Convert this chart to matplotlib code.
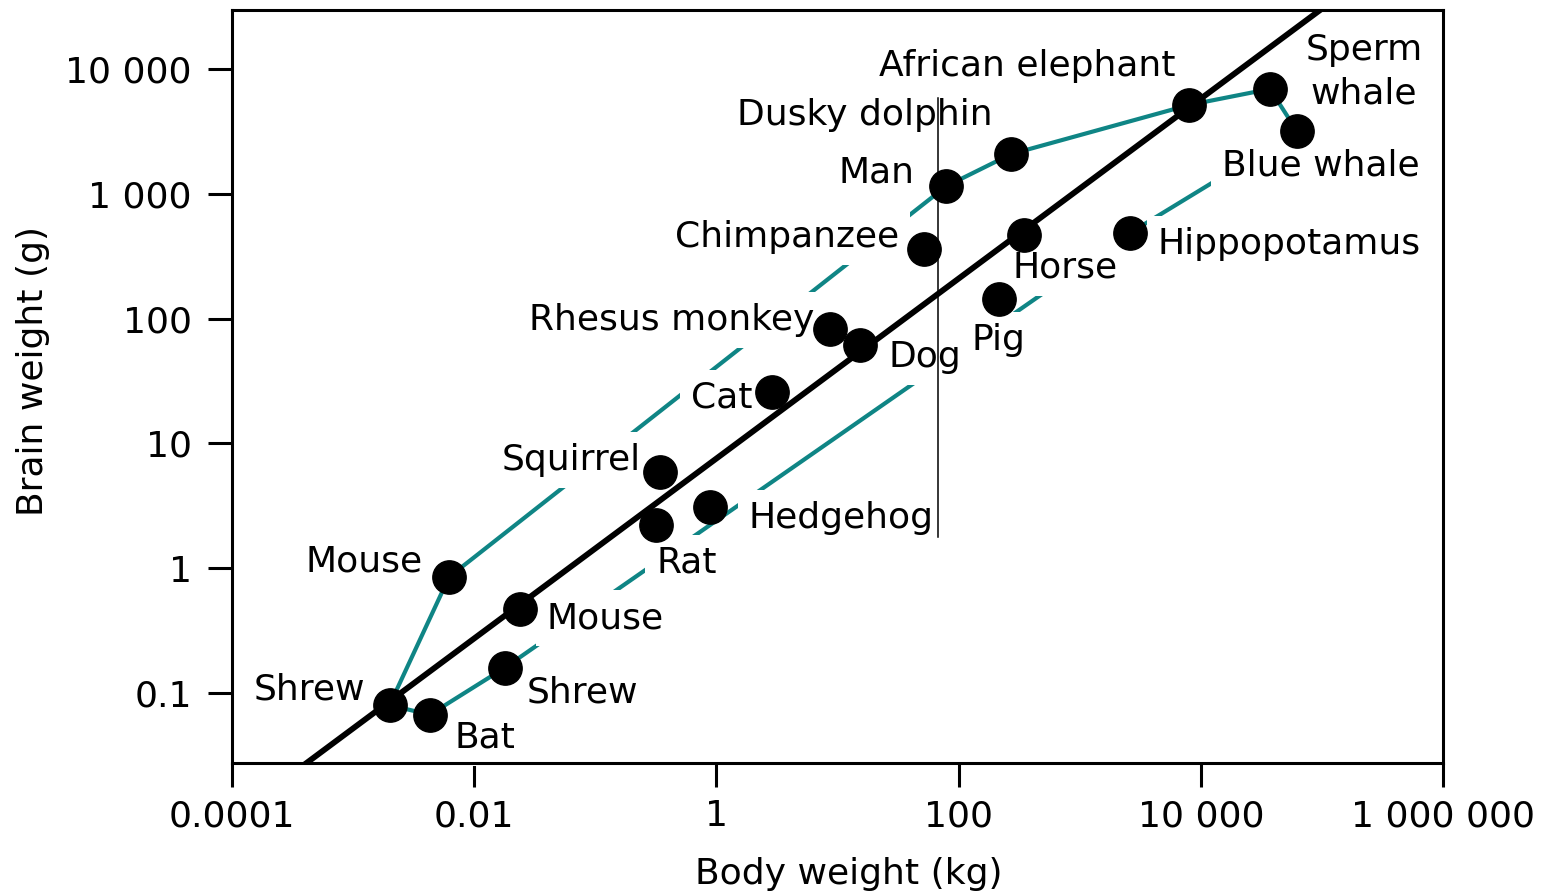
import matplotlib

matplotlib.use("Agg")
import matplotlib.pyplot as plt
from matplotlib.ticker import FixedLocator, FuncFormatter, NullLocator

# body weight (kg), brain weight (g), label offset in pixels from the point
names = ["Shrew", "Bat", "Mouse", "Mouse", "Shrew", "Squirrel", "Rat", "Hedgehog",
         "Cat", "Rhesus monkey", "Dog", "Chimpanzee", "Man", "Dusky dolphin",
         "African elephant", "Sperm\nwhale", "Blue whale", "Hippopotamus", "Horse", "Pig"]
body_kg = [0.002, 0.0043, 0.0062, 0.024, 0.018, 0.34, 0.32, 0.885,
           2.9, 8.7, 15.3, 52, 79, 271,
           8000, 37200, 62200, 2600, 347, 216]
brain_g = [0.080, 0.067, 0.85, 0.47, 0.16, 5.9, 2.2, 3.1,
           26, 83, 61, 361, 1150, 2080,
           5150, 6920, 3180, 486, 468, 144]
label_dx = [-80, 55, -85, 85, 77, -88, 30, 131, -51, -159, 65, -137, -70, -146,
            -162, 94, 24, 159, 41, -1]
label_dy = [16, -23, 16, -9, -25, 12, -37, -11, -6, 9, -12, 12, 14, 39,
            39, 17, -34, -11, -33, -41]

# convex hull around all species, as indices into the lists above
hull = [0, 2, 12, 13, 14, 15, 16, 17, 4, 1, 0]

# fitted allometric line
line_x = [1e-4, 1e6]
line_y = [0.0099, 160000]

# thin vertical marker line
vline_x = 67.6
vline_y = [1.78, 5900]

x_ticks = [1e-4, 1e-2, 1, 1e2, 1e4, 1e6]
y_ticks = [0.1, 1, 10, 100, 1000, 10000]

TEAL = "#0f8585"
FS = 26


def fmt(v, _pos=None):
    if v < 1:
        return f"{v:g}"
    return f"{int(round(v)):,}".replace(",", " ")


fig = plt.figure(figsize=(15.55, 8.93), dpi=100)
ax = fig.add_axes([0.1492, 0.1456, 0.7788, 0.8432])

hx = [body_kg[i] for i in hull]
hy = [brain_g[i] for i in hull]
ax.plot(hx, hy, color=TEAL, linewidth=3, zorder=1, solid_capstyle="butt")
ax.plot(line_x, line_y, color="black", linewidth=4.2, zorder=3.5, solid_capstyle="butt")
ax.plot(body_kg, brain_g, "o", color="black", markersize=24, zorder=4)

for name, x, y, dx, dy in zip(names, body_kg, brain_g, label_dx, label_dy):
    ax.annotate(name, (x, y), xytext=(dx, dy), textcoords="offset pixels",
                ha="center", va="center", fontsize=FS, linespacing=1.35,
                bbox=dict(boxstyle="square,pad=0.3", fc="white", ec="none"),
                zorder=3)

ax.plot([vline_x, vline_x], vline_y, color="black", linewidth=1.1, zorder=5)

ax.set_xscale("log")
ax.set_yscale("log")
ax.set_xlim(1e-4, 1e6)
ax.set_ylim(0.0275, 29700)
ax.xaxis.set_major_locator(FixedLocator(x_ticks))
ax.yaxis.set_major_locator(FixedLocator(y_ticks))
ax.xaxis.set_minor_locator(NullLocator())
ax.yaxis.set_minor_locator(NullLocator())
ax.xaxis.set_major_formatter(FuncFormatter(fmt))
ax.yaxis.set_major_formatter(FuncFormatter(fmt))
ax.tick_params(length=17, width=2.2, labelsize=FS, direction="out")
ax.tick_params(axis="x", pad=9)
ax.tick_params(axis="y", pad=12)
for s in ax.spines.values():
    s.set_linewidth(2.2)
    s.set_zorder(6)

ax.set_xlabel("Body weight (kg)", fontsize=FS)
ax.set_ylabel("Brain weight (g)", fontsize=FS)
ax.xaxis.set_label_coords(0.509, -0.125)
ax.yaxis.set_label_coords(-0.15, 0.52)

fig.savefig("out.png", dpi=100)
